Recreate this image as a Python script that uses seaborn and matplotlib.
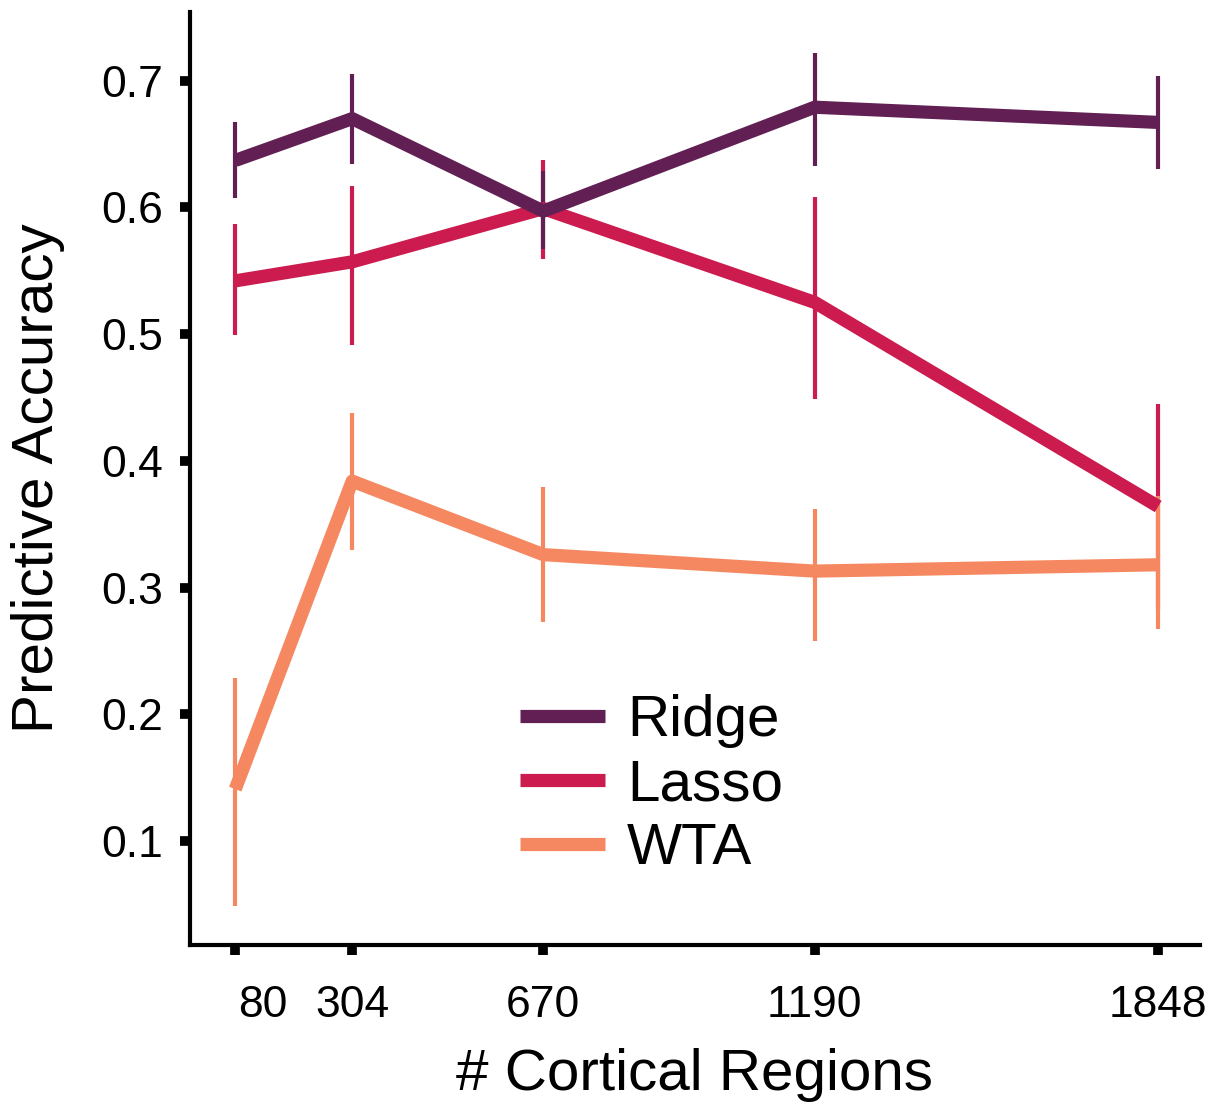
import matplotlib
matplotlib.use("Agg")
import matplotlib.pyplot as plt
import matplotlib.transforms as mtransforms
import numpy as np
import pandas as pd
import seaborn as sns

# Number of cortical regions in each parcellation
regions = [80, 304, 670, 1190, 1848]
region_labels = ["80", "304", "670", "1190", "1848"]

# Mean predictive accuracy per model
ridge_mean = [0.637, 0.670, 0.597, 0.679, 0.667]
lasso_mean = [0.542, 0.557, 0.599, 0.525, 0.364]
wta_mean = [0.141, 0.384, 0.326, 0.313, 0.318]

# Lower / upper bounds of the error bars
ridge_lo = [0.607, 0.634, 0.567, 0.633, 0.630]
ridge_hi = [0.667, 0.705, 0.629, 0.722, 0.704]
lasso_lo = [0.499, 0.491, 0.559, 0.449, 0.283]
lasso_hi = [0.587, 0.617, 0.637, 0.608, 0.445]
wta_lo = [0.049, 0.330, 0.273, 0.258, 0.267]
wta_hi = [0.229, 0.438, 0.379, 0.362, 0.372]

models = ["Ridge", "Lasso", "WTA"]
colors = {"Ridge": "#611F53", "Lasso": "#CB1B4F", "WTA": "#F58860"}

means = {"Ridge": ridge_mean, "Lasso": lasso_mean, "WTA": wta_mean}
lows = {"Ridge": ridge_lo, "Lasso": lasso_lo, "WTA": wta_lo}
highs = {"Ridge": ridge_hi, "Lasso": lasso_hi, "WTA": wta_hi}

df = pd.DataFrame(
    [(m, r, v) for m in models for r, v in zip(regions, means[m])],
    columns=["model", "regions", "accuracy"],
)

sns.set_style("ticks")
plt.rcParams["font.family"] = ["Liberation Sans", "DejaVu Sans"]
plt.rcParams["text.color"] = "black"
plt.rcParams["axes.labelcolor"] = "black"
plt.rcParams["xtick.color"] = "black"
plt.rcParams["ytick.color"] = "black"

fig = plt.figure(figsize=(12.17, 11.04), dpi=100)
ax = fig.add_axes([0.156, 0.144, 0.830, 0.845])

sns.lineplot(
    data=df, x="regions", y="accuracy", hue="model", hue_order=models,
    palette=colors, linewidth=9.5, errorbar=None, ax=ax,
)

# Stack lines so that Ridge sits on top, then Lasso, then WTA
line_z = {"Ridge": 6, "Lasso": 5, "WTA": 4}
for line, m in zip(ax.lines[:3], models):
    line.set_zorder(line_z[m])
    line.set_solid_capstyle("butt")

# Error bars
err_z = {"Ridge": 3, "Lasso": 2, "WTA": 3}
for m in models:
    mu = np.array(means[m])
    yerr = np.vstack([mu - np.array(lows[m]), np.array(highs[m]) - mu])
    ax.errorbar(regions, mu, yerr=yerr, fmt="none", ecolor=colors[m],
                elinewidth=3.0, capsize=0, zorder=err_z[m])

ax.set_xlim(-7, 1928)
ax.set_ylim(0.018, 0.754)
ax.set_xticks(regions)
ax.set_xticklabels(region_labels)
ax.set_yticks([0.1, 0.2, 0.3, 0.4, 0.5, 0.6, 0.7])
ax.set_yticklabels(["0.1", "0.2", "0.3", "0.4", "0.5", "0.6", "0.7"])

ax.tick_params(axis="both", labelsize=32, width=7, length=7,
               color="black", labelcolor="black")
ax.tick_params(axis="x", pad=22)
ax.tick_params(axis="y", pad=12)

# Nudge the first x label to keep it clear of its neighbour
first = ax.get_xticklabels()[0]
first.set_transform(first.get_transform() +
                    mtransforms.ScaledTranslation(0.28, 0, fig.dpi_scale_trans))

for side in ["top", "right"]:
    ax.spines[side].set_visible(False)
for side in ["left", "bottom"]:
    ax.spines[side].set_linewidth(3)
    ax.spines[side].set_color("black")

ax.set_xlabel("# Cortical Regions", fontsize=42, color="black")
ax.set_ylabel("Predictive Accuracy", fontsize=42, color="black")
ax.xaxis.set_label_coords(0.5, -0.110)
ax.yaxis.set_label_coords(-0.124, 0.5)

leg = ax.legend(
    loc="center left", bbox_to_anchor=(0.327, 0.1715), frameon=False,
    fontsize=42, handlelength=1.45, handletextpad=0.38, labelspacing=0.17,
    borderpad=0, borderaxespad=0,
)
for t in leg.get_texts():
    t.set_color("black")
for h in leg.get_lines():
    h.set_linewidth(9.5)
    h.set_solid_capstyle("butt")

fig.savefig("out.png", dpi=100, facecolor="white")
